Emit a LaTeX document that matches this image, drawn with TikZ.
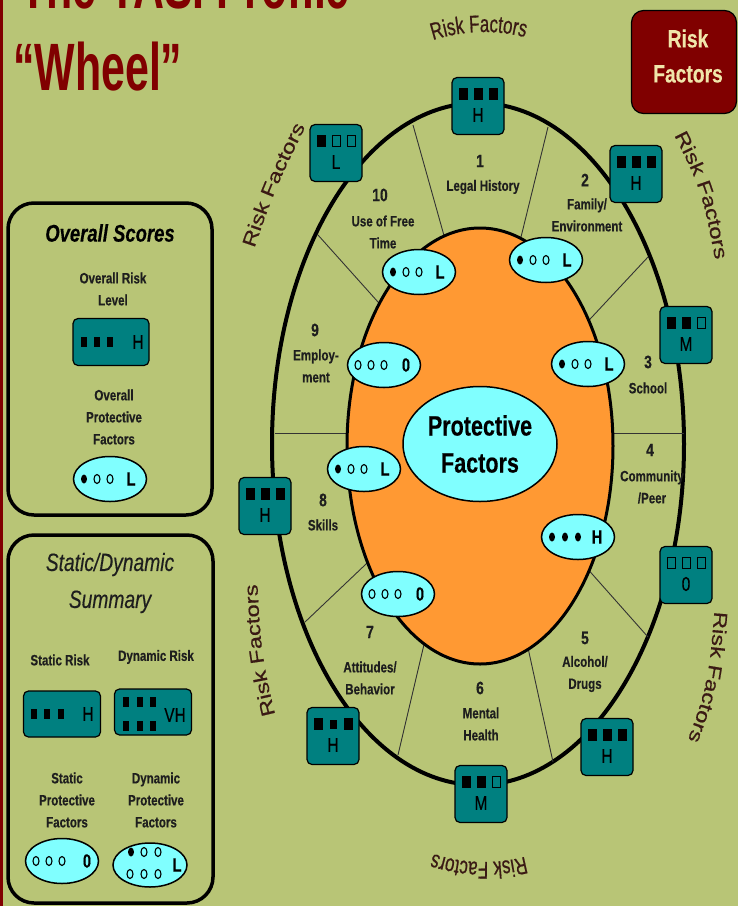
\documentclass[tikz,border=0pt]{standalone}
\usepackage{fontspec}
\setmainfont{Liberation Sans}[FakeStretch=0.77,FakeBold=0.3]
\newfontfamily\titlefont{Liberation Sans}[FakeStretch=0.64]
\newfontfamily\rffont{Liberation Sans}[FakeStretch=0.7,FakeBold=0.6]
\newfontfamily\rffontw{Liberation Sans}[FakeStretch=1.25,FakeBold=0.6]
\usetikzlibrary{decorations.text,calc,shapes.geometric}
\definecolor{bg}{HTML}{B8C576}
\definecolor{dred}{HTML}{800000}
\definecolor{tealbox}{HTML}{008080}
\definecolor{cyanov}{HTML}{80FFFF}
\definecolor{orng}{HTML}{FF9933}
\definecolor{rfc}{HTML}{3A1A14}
\definecolor{beige}{HTML}{F0E6AA}
\definecolor{txt}{HTML}{1E1E1E}
\tikzset{
 rbox/.style={draw=black, line width=1.2pt, fill=tealbox, rounded corners=5pt, minimum width=52pt, minimum height=57pt, inner sep=0pt},
 sqf/.style={fill=black, minimum width=9pt, minimum height=12pt, inner sep=0pt},
 sqe/.style={draw=black, line width=1pt, fill=tealbox, minimum width=8pt, minimum height=11pt, inner sep=0pt},
 sqm/.style={fill=black, minimum width=7pt, minimum height=9pt, inner sep=0pt},
 sqs/.style={fill=black, minimum width=6pt, minimum height=10pt, inner sep=0pt},
 boxletter/.style={font=\fontsize{20}{20}\selectfont, text=black, inner sep=0pt},
 poval/.style={ellipse, draw=black, line width=1.5pt, fill=cyanov, minimum width=73pt, minimum height=45pt, inner sep=0pt},
 dotf/.style={ellipse, fill=black, minimum width=6pt, minimum height=9pt, inner sep=0pt},
 dote/.style={ellipse, draw=black, line width=1.1pt, minimum width=6pt, minimum height=9pt, inner sep=0pt},
 ovletter/.style={font=\bfseries\fontsize{19}{19}\selectfont, text=black, inner sep=0pt},
 num/.style={font=\bfseries\fontsize{18}{18}\selectfont, text=txt, inner sep=0pt},
 lbl/.style={font=\bfseries\fontsize{15}{22}\selectfont, text=txt, align=center, inner sep=0pt},
 panel/.style={draw=black, line width=3.5pt, rounded corners=26pt},
 spoke/.style={draw=black!80, line width=0.9pt},
 smallbox/.style={draw=black, line width=1.2pt, fill=tealbox, rounded corners=5pt, minimum width=77pt, minimum height=46pt, inner sep=0pt},
 rfdeco/.style={decorate, decoration={text along path, text align=center, text color=rfc, text={|#1|Risk Factors}}},
}
\newcommand\rbx[7]{%
 \node[rbox] (#1) at (#2,#3) {};
 \node[#4] at ([xshift=-15pt,yshift=12pt]#1.center) {};
 \node[#5] at ([yshift=12pt]#1.center) {};
 \node[#6] at ([xshift=15pt,yshift=12pt]#1.center) {};
 \node[boxletter] at ([yshift=-9pt]#1.center) {#7};
}
\newcommand\pov[8]{%
 \node[poval] (#1) at (#2,#3) {};
 \node[#4] at ([xshift=-26pt]#1.center) {};
 \node[#5] at ([xshift=-13pt]#1.center) {};
 \node[#6] at (#1.center) {};
 \node[ovletter] at ([xshift=#8pt]#1.center) {#7};
}
\newcommand\rflabel[3]{%
 \path[rfdeco={\rffont\fontsize{24}{24}\selectfont}]
   ($(484,444)+(#1:258 and #3)$) arc[start angle=#1, end angle=#2, x radius=258, y radius=#3];
}
\newcommand\rfcurve[3]{%
 \path[rfdeco={\rffontw\fontsize{19}{19}\selectfont}] (#1) .. controls (#2) .. (#3);
}
\begin{document}
\begin{tikzpicture}[x=1pt,y=-1pt]
\useasboundingbox (0,0) rectangle (738,906);
\clip (0,0) rectangle (738,906);
\fill[bg] (0,0) rectangle (738,906);
\fill[dred] (0,0) rectangle (3,906);

% titles
\node[anchor=base west, text=dred, inner sep=0pt, font=\titlefont\bfseries\fontsize{67}{67}\selectfont] (t1) at (20,8) {The YASI Profile};
\node[anchor=base west, text=dred, inner sep=0pt, font=\titlefont\bfseries\fontsize{67}{67}\selectfont] (t2) at (13,90) {“Wheel”};

% Risk Factors box
\node[draw=black, line width=1.2pt, fill=dred, rounded corners=12pt, minimum width=105pt, minimum height=103pt, inner sep=0pt] (rfbox) at (684,62) {};
\node[text=beige, align=center, inner sep=0pt, font=\bfseries\fontsize{25}{35}\selectfont] (rftext) at (688,56) {Risk\\Factors};

% wheel
\draw[line width=4pt] (478,444) ellipse [x radius=206, y radius=341];
\coordinate (i1) at (443,232); \coordinate (o1) at (413,125);
\coordinate (i2) at (522,233); \coordinate (o2) at (548,127);
\coordinate (i3) at (592,317); \coordinate (o3) at (648,257);
\coordinate (i4) at (615,433); \coordinate (o4) at (684,433);
\coordinate (i5) at (593,575); \coordinate (o5) at (648,637);
\coordinate (i6) at (530,657); \coordinate (o6) at (553,762);
\coordinate (i7) at (422,653); \coordinate (o7) at (398,755);
\coordinate (i8) at (365,565); \coordinate (o8) at (305,622);
\coordinate (i9) at (347,433); \coordinate (o9) at (275,433);
\coordinate (i10) at (378,302); \coordinate (o10) at (318,235);
\foreach \k in {1,...,10} {\draw[spoke] ($(i\k)!-8pt!(o\k)$) -- (o\k);}
\draw[line width=3pt, fill=orng] (480,446) ellipse [x radius=133, y radius=218];

% sector labels
\node[num] (n1) at (480,161) {1};
\node[lbl] (l1) at (483,187) {Legal History};
\node[num] (n2) at (585,180) {2};
\node[lbl] (l2) at (587,215) {Family/\\Environment};
\node[num] (n3) at (648,362) {3};
\node[lbl] (l3) at (648,388) {School};
\node[num] (n4) at (650,450) {4};
\node[lbl] (l4) at (652,487) {Community\\/Peer};
\node[num] (n5) at (585,638) {5};
\node[lbl] (l5) at (585,674) {Alcohol/\\Drugs};
\node[num] (n6) at (480,688) {6};
\node[lbl] (l6) at (481,724) {Mental\\Health};
\node[num] (n7) at (370,632) {7};
\node[lbl] (l7) at (370,678) {Attitudes/\\Behavior};
\node[num] (n8) at (323,500) {8};
\node[lbl] (l8) at (323,525) {Skills};
\node[num] (n9) at (315,330) {9};
\node[lbl] (l9) at (316,366) {Employ-\\ment};
\node[num] (n10) at (380,195) {10};
\node[lbl] (l10) at (383,232) {Use of Free\\Time};

% central oval
\node[ellipse, draw=black, line width=1.5pt, fill=cyanov, minimum width=154pt, minimum height=115pt, inner sep=0pt, align=center, font=\bfseries\fontsize{28}{37}\selectfont] (pf) at (480,444) {Protective\\Factors};

% protective ovals
\pov{p10}{419}{272}{dotf}{dote}{dote}{L}{21}
\pov{p2}{546}{260}{dotf}{dote}{dote}{L}{21}
\pov{p3}{588}{364}{dotf}{dote}{dote}{L}{21}
\pov{p4}{578}{537}{dotf}{dotf}{dotf}{H}{19}
\pov{p7}{398}{594}{dote}{dote}{dote}{0}{22}
\pov{p8}{364}{469}{dotf}{dote}{dote}{L}{21}
\pov{p9}{384}{365}{dote}{dote}{dote}{0}{22}

% risk boxes
\rbx{b1}{478}{106}{sqf}{sqf}{sqf}{H}
\rbx{b2}{636}{174}{sqf}{sqf}{sqf}{H}
\rbx{b3}{686}{335}{sqf}{sqf}{sqe}{M}
\rbx{b4}{686}{575}{sqe}{sqe}{sqe}{0}
\rbx{b5}{607}{747}{sqf}{sqf}{sqf}{H}
\rbx{b6}{481}{794}{sqf}{sqf}{sqe}{M}
\rbx{b7}{333}{736}{sqf}{sqm}{sqf}{H}
\rbx{b8}{265}{506}{sqf}{sqf}{sqf}{H}
\rbx{b10}{336}{153}{sqf}{sqe}{sqe}{L}

% curved Risk Factors labels
\rflabel{-116}{-66}{412}
\rflabel{66}{116}{418}
\coordinate (trA) at (662.5,112.5); \coordinate (trC) at (703,191); \coordinate (trB) at (719.5,285);
\coordinate (rlA) at (716.5,582.5); \coordinate (rlC) at (709,685); \coordinate (rlB) at (677.5,767);
\coordinate (llA) at (283,746.5); \coordinate (llC) at (260.5,655); \coordinate (llB) at (256,551.5);
\coordinate (luA) at (245,276); \coordinate (luC) at (274,190); \coordinate (luB) at (318.5,100.5);
\rfcurve{trA}{trC}{trB}
\rfcurve{rlA}{rlC}{rlB}
\rfcurve{llA}{llC}{llB}
\rfcurve{luA}{luC}{luB}

% panel 1
\draw[panel] (8,203) rectangle (212,515);
\node[inner sep=0pt, text=black, font=\bfseries\itshape\fontsize{24}{24}\selectfont] (os) at (110,233) {Overall Scores};
\node[lbl] (orlt) at (113,289) {Overall Risk\\Level};
\node[smallbox, minimum width=76pt, minimum height=47pt] (orl) at (111,342) {};
\node[sqs] at ([xshift=-27pt]orl.center) {};
\node[sqs] at ([xshift=-14pt]orl.center) {};
\node[sqs] at ([xshift=-1pt]orl.center) {};
\node[boxletter] at ([xshift=27pt]orl.center) {H};
\node[lbl] (opft) at (114,417) {Overall\\Protective\\Factors};
\pov{opf}{110}{479}{dotf}{dote}{dote}{L}{21}

% panel 2
\draw[panel] (8,535) rectangle (213,903);
\node[inner sep=0pt, text=txt, align=center, font=\itshape\fontsize{25}{37}\selectfont] (sds) at (110,583) {Static/Dynamic\\Summary};
\node[lbl] (srt) at (60,660) {Static Risk};
\node[lbl] (drt) at (156,657) {Dynamic Risk};
\node[smallbox] (sr) at (62,714) {};
\node[sqs] at ([xshift=-28pt]sr.center) {};
\node[sqs] at ([xshift=-15pt]sr.center) {};
\node[sqs] at ([xshift=-1pt]sr.center) {};
\node[boxletter] at ([xshift=26pt]sr.center) {H};
\node[smallbox] (dr) at (153,712) {};
\node[sqs] at ([xshift=-27pt,yshift=10pt]dr.center) {};
\node[sqs] at ([xshift=-13pt,yshift=10pt]dr.center) {};
\node[sqs] at ([xshift=0pt,yshift=10pt]dr.center) {};
\node[sqs] at ([xshift=-27pt,yshift=-14pt]dr.center) {};
\node[sqs] at ([xshift=-13pt,yshift=-14pt]dr.center) {};
\node[sqs] at ([xshift=0pt,yshift=-14pt]dr.center) {};
\node[boxletter] at ([xshift=22pt,yshift=-3pt]dr.center) {VH};
\node[lbl] (spft) at (67,800) {Static\\Protective\\Factors};
\node[lbl] (dpft) at (156,800) {Dynamic\\Protective\\Factors};
\pov{spf}{62}{861}{dote}{dote}{dote}{0}{25}
\node[poval, minimum width=74pt, minimum height=44pt] (dpf) at (150,865) {};
\node[dotf] at (131,852) {};
\node[dote] at (144,852) {};
\node[dote] at (158,852) {};
\node[dote] at (130,874) {};
\node[dote] at (144,874) {};
\node[dote] at (158,874) {};
\node[ovletter] at (177,865) {L};
\end{tikzpicture}
\end{document}
